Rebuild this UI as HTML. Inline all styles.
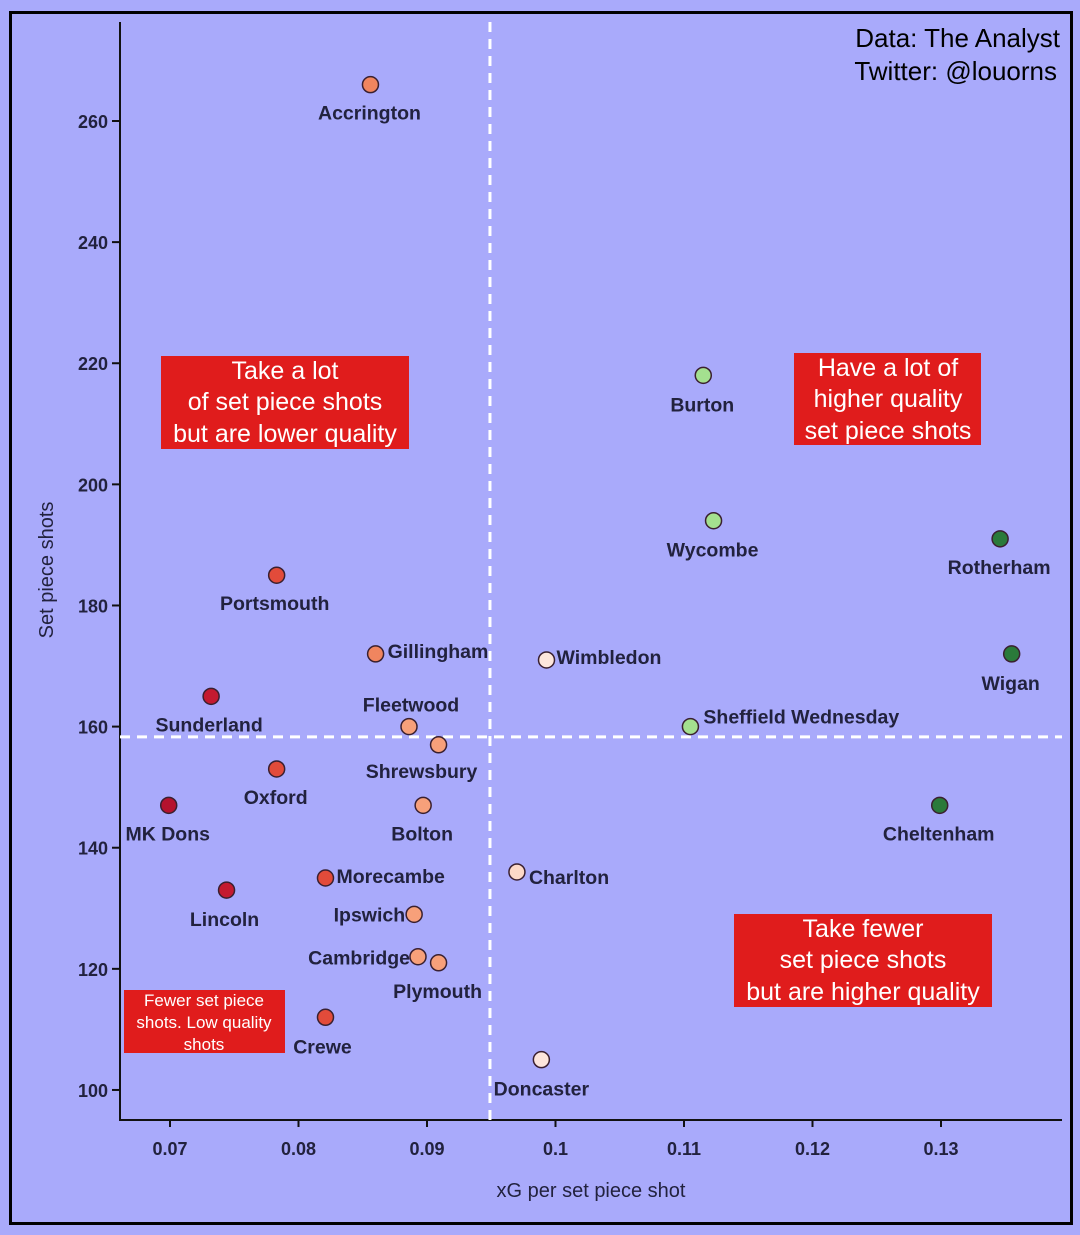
<!DOCTYPE html>
<html><head><meta charset="utf-8"><style>
body{margin:0;background:#a9aafb;}
svg{display:block;font-family:"Liberation Sans",sans-serif;}
</style></head><body>
<svg width="1080" height="1235">
<rect x="0" y="0" width="1080" height="1235" fill="#a9aafb"/>
<rect x="10.5" y="12.5" width="1061" height="1211" fill="none" stroke="#000" stroke-width="3"/>
<g id="plot"></g>
</svg>
<script>
const teams=["Accrington","Burton","Wycombe","Rotherham","Wigan","Portsmouth","Gillingham","Wimbledon","Sunderland","Fleetwood","Sheffield Wednesday","Shrewsbury","Oxford","MK Dons","Bolton","Cheltenham","Charlton","Morecambe","Lincoln","Ipswich","Cambridge","Plymouth","Crewe","Doncaster"];
const xgPerShot=[0.0856,0.1115,0.1123,0.1346,0.1355,0.0783,0.0860,0.0993,0.0732,0.0886,0.1105,0.0909,0.0783,0.0699,0.0897,0.1299,0.0970,0.0821,0.0744,0.0890,0.0893,0.0909,0.0821,0.0989];
const shots=[266,218,194,191,172,185,172,171,165,160,160,157,153,147,147,147,136,135,133,129,122,121,112,105];
const colors=["#f0855f","#a4e08f","#a4e08f","#2a7a3a","#2a7a3a","#e24b3a","#f0855f","#fde6dc","#c41a30","#f7a07a","#a4e08f","#f7a07a","#e24b3a","#b5122e","#f7a07a","#2a7a3a","#fdd9c8","#e24b3a","#c41a30","#f7a07a","#f7a07a","#f7a07a","#e24b3a","#fde6dc"];
const labelDx=[-1,-1,-1,-1,-1,-2,12,10,-2,2,13,-17,-1,-1,-1,-1,12,11,-2,-9,-8,-1,-3,0];
const labelDy=[28,29,29,28,29,28,-3,-3,28,-22,-10,26,28,28,28,28,5,-2,29,0,1,28,29,29];
const labelAnchor=["middle","middle","middle","middle","middle","middle","start","start","middle","middle","start","middle","middle","middle","middle","middle","start","start","middle","end","end","middle","middle","middle"];
const xTicks=[0.07,0.08,0.09,0.1,0.11,0.12,0.13];
const xTickLabels=["0.07","0.08","0.09","0.1","0.11","0.12","0.13"];
const yTicks=[100,120,140,160,180,200,220,240,260];
const xSplit=0.0949, ySplit=158.3;
const NS="http://www.w3.org/2000/svg";
const L=120,R=1062,T=22,B=1120;
const sx=v=>170+(v-0.07)*12850;
const sy=v=>121+(260-v)*6.056;
const g=document.getElementById('plot');
function mk(t,a,p){const e=document.createElementNS(NS,t);for(const k in a)e.setAttribute(k,a[k]);(p||g).appendChild(e);return e;}
let e=mk('line',{x1:L,y1:T,x2:L,y2:B,stroke:'#111',"stroke-width":2});


e=mk('line',{x1:L-1,y1:B,x2:R,y2:B,stroke:'#111',"stroke-width":2});


xTicks.forEach((v,i)=>{
 e=mk('line',{x1:sx(v),y1:B,x2:sx(v),y2:B+7,stroke:'#111',"stroke-width":2});
 
 
 e=mk('text',{x:sx(v),y:B+35,"text-anchor":"middle","font-size":18,"font-weight":"bold",fill:"#22223e"});e.textContent=xTickLabels[i];
 
 
});
yTicks.forEach(v=>{
 e=mk('line',{x1:L-8,y1:sy(v),x2:L,y2:sy(v),stroke:'#111',"stroke-width":2});
 
 
 e=mk('text',{x:L-12,y:sy(v)+7,"text-anchor":"end","font-size":18,"font-weight":"bold",fill:"#22223e"});e.textContent=v;
 
 
});
e=mk('text',{x:591,y:1197,"text-anchor":"middle","font-size":20,fill:"#22223e"});e.textContent="xG per set piece shot";


e=mk('text',{x:53,y:570,"text-anchor":"middle","font-size":20,fill:"#22223e",transform:"rotate(-90 53 570)"});e.textContent="Set piece shots";


e=mk('line',{x1:sx(xSplit),y1:T,x2:sx(xSplit),y2:B,stroke:'#fff',"stroke-width":3,"stroke-dasharray":"10 7"});


e=mk('line',{x1:L,y1:sy(ySplit),x2:R,y2:sy(ySplit),stroke:'#fff',"stroke-width":3,"stroke-dasharray":"10 7"});


teams.forEach((t,i)=>{
 const cx=sx(xgPerShot[i]),cy=sy(shots[i]);
 e=mk('circle',{cx:cx,cy:cy,r:8,fill:colors[i],stroke:"#3a2030","stroke-width":1.5});
 
 
 e=mk('text',{x:cx+labelDx[i],y:cy+labelDy[i]+7,"text-anchor":labelAnchor[i],"font-size":19.5,"font-weight":"bold",fill:"#22223e"});e.textContent=t;
 
 
});
function box(name,x,y,w,h,lines,ys,cx,fs){
 const gg=mk('g',{});
 
 
 mk('rect',{x:x,y:y,width:w,height:h,fill:"#e01c1c"},gg);
 lines.forEach((l,i)=>{const t=mk('text',{x:cx,y:ys[i],"text-anchor":"middle","font-size":fs,fill:"#fff"},gg);t.textContent=l;});
}
box('annotation-top-left',161,356,248,93,["Take a lot","of set piece shots","but are lower quality"],[379,410,442],285,25);
box('annotation-top-right',794,353,187,92,["Have a lot of","higher quality","set piece shots"],[376,407,439],888,25);
box('annotation-bottom-right',734,914,258,93,["Take fewer","set piece shots","but are higher quality"],[937,968,1000],863,25);
box('annotation-bottom-left',124,990,161,63,["Fewer set piece","shots. Low quality","shots"],[1006,1028,1050],204,17);
e=mk('text',{x:1060,y:47,"text-anchor":"end","font-size":26,fill:"#000"});e.textContent="Data: The Analyst";


e=mk('text',{x:1057,y:80,"text-anchor":"end","font-size":26,fill:"#000"});e.textContent="Twitter: @louorns";


</script>
</body></html>
